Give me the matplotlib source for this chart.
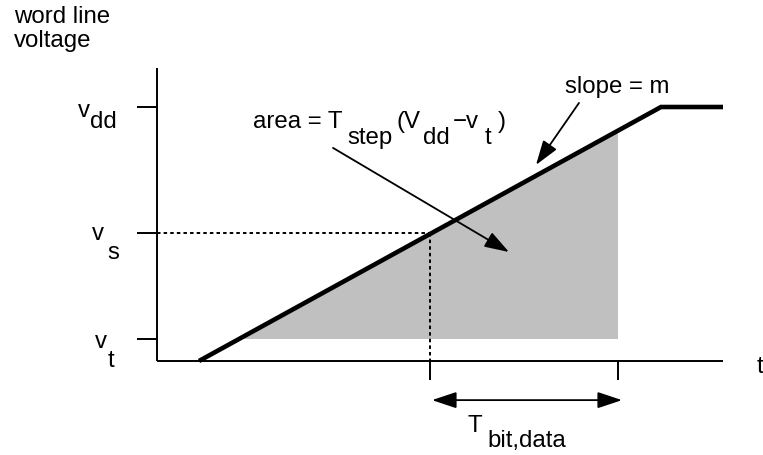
import matplotlib
matplotlib.use("Agg")
import matplotlib.pyplot as plt

plt.rcParams['font.family'] = ['Liberation Sans', 'DejaVu Sans']

# ---- data (time in arbitrary units, voltage normalised to v_dd = 1) ----
level_names = ['v_t', 'v_s', 'v_dd']
level_vals = [0.087, 0.504, 1.0]
v_t, v_s, v_dd = level_vals
ramp_t = [0.42, 5.04, 5.66]          # word line voltage waveform
ramp_v = [0.0, 1.0, 1.0]
t_s = 2.73                           # time where the line reaches v_s
t_bit_end = 4.61                     # end of T_bit,data
gray_t = [0.80, 4.61, 4.61]          # shaded area polygon
gray_v = [0.087, 0.087, 0.90]
t_axis_end = 5.66
v_axis_top = 1.154

W, H = 763, 455
PX_T, PX_V = 100.0, 254.0            # pixels per unit
X0, Y0 = 157, 361                    # origin in pixels
FS = 17.3
LW_AX = 1.4

fig = plt.figure(figsize=(W / 100, H / 100), dpi=100)
ax = fig.add_axes([0, 0, 1, 1])
ax.set_xlim(-X0 / PX_T, (W - X0) / PX_T)
ax.set_ylim(-(H - Y0) / PX_V, Y0 / PX_V)
ax.axis('off')

# shaded area
ax.fill(gray_t, gray_v, color='#c0c0c0', lw=0, zorder=1)

# axes
ax.plot([0, 0], [0, v_axis_top], color='black', lw=LW_AX, solid_capstyle='butt', zorder=3)
ax.plot([0, t_axis_end], [0, 0], color='black', lw=LW_AX, solid_capstyle='butt', zorder=3)
for v in level_vals:
    ax.plot([-0.20, 0], [v, v], color='black', lw=LW_AX, solid_capstyle='butt', zorder=3)
for t in [t_s, t_bit_end]:
    ax.plot([t, t], [0, -0.075], color='black', lw=LW_AX, solid_capstyle='butt', zorder=3)

# dotted guide lines
ax.plot([0, t_s], [v_s, v_s], color='black', lw=1.4, ls=(0, (1.8, 1.6)), zorder=2)
ax.plot([t_s, t_s], [v_s, 0], color='black', lw=1.4, ls=(0, (1.8, 1.6)), zorder=2)

# ramp
ax.plot(ramp_t, ramp_v, color='black', lw=3.3, solid_capstyle='butt',
        solid_joinstyle='miter', zorder=4)

# arrows
astyle = '-|>,head_length=0.75,head_width=0.25'
ax.annotate('', xy=(3.79, 0.772), xytext=(4.22, 1.016),
            arrowprops=dict(arrowstyle=astyle, mutation_scale=20, lw=1.3,
                            color='black', shrinkA=0, shrinkB=0), zorder=5)
ax.annotate('', xy=(3.52, 0.429), xytext=(1.76, 0.839),
            arrowprops=dict(arrowstyle=astyle, mutation_scale=20, lw=1.3,
                            color='black', shrinkA=0, shrinkB=0), zorder=5)
ax.annotate('', xy=(2.75, -0.154), xytext=(4.65, -0.154),
            arrowprops=dict(arrowstyle='<|-|>,head_length=0.75,head_width=0.25',
                            mutation_scale=20, lw=1.3, color='black',
                            shrinkA=0, shrinkB=0), zorder=5)


def px2data(x, y):
    return ((x - X0) / PX_T, (Y0 - y) / PX_V)


def label(x, y, s):
    ax.text(*px2data(x, y), s, fontsize=FS, ha='left', va='baseline',
            color='black', zorder=6)


label(14, 23, 'word line')
label(14, 47, 'voltage')

# v_dd, v_s, v_t (subscripts same size, lowered)
label(78, 117, 'v'); label(90, 128, 'dd')
label(92, 240, 'v'); label(107, 259, 's')
label(95, 348, 'v'); label(108, 367, 't')

# area = T_step (V_dd - v_t)
label(253, 128, 'area = T')
label(347, 144, 'step')
label(397, 128, '(V')
label(423, 144, 'dd')
label(453, 128, '\u2212v')
label(485, 144, 't')
label(498, 128, ')')

label(565, 93, 'slope = m')
label(757, 373, 't')
label(468, 432, 'T')
label(487, 447, 'bit,data')

fig.savefig('out.png', dpi=100)
